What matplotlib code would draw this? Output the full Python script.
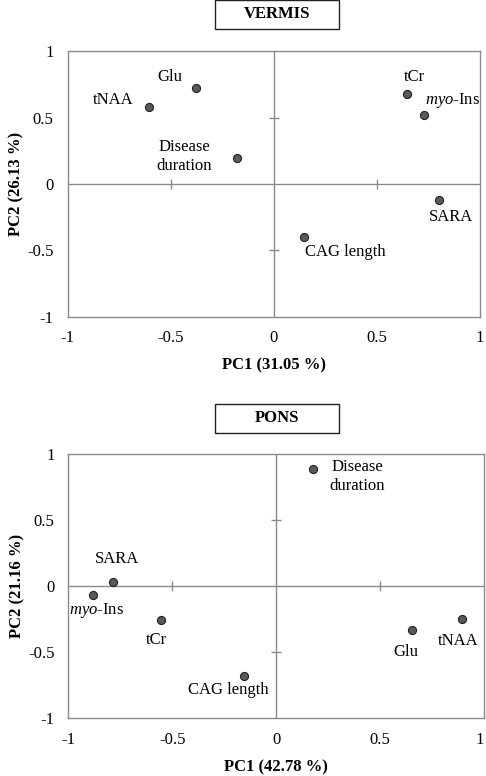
# PCA loading plots for vermis and pons, two panels stacked vertically.

import matplotlib
matplotlib.use("Agg")
import matplotlib.pyplot as plt
from matplotlib.patches import Rectangle

plt.rcParams["font.family"] = ["Liberation Serif", "DejaVu Serif"]
plt.rcParams["mathtext.fontset"] = "custom"
plt.rcParams["mathtext.rm"] = "Liberation Serif"
plt.rcParams["mathtext.it"] = "Liberation Serif:italic"

MYO = "$\\it{myo}$-Ins"

# Vermis loadings
vermis_labels = ["Glu", "tNAA", "Disease\nduration", "tCr", MYO, "SARA", "CAG length"]
vermis_pc1 = [-0.376, -0.605, -0.177, 0.646, 0.730, 0.800, 0.145]
vermis_pc2 = [0.726, 0.576, 0.193, 0.681, 0.516, -0.125, -0.400]
vermis_offsets = [(-26, 11), (-36, 7), (-53, 2), (7, 17), (28, 15), (12, -17), (42, -15)]

# Pons loadings
pons_labels = ["Disease\nduration", "SARA", MYO, "tCr", "CAG length", "Glu", "tNAA"]
pons_pc1 = [0.180, -0.786, -0.879, -0.553, -0.156, 0.653, 0.895]
pons_pc2 = [0.889, 0.030, -0.063, -0.258, -0.680, -0.329, -0.247]
pons_offsets = [(44, -7), (4, 23), (3, -16), (-5, -20), (-15, -14), (-6, -22), (-4, -22)]

ticks = [-1, -0.5, 0, 0.5, 1]
tick_labels = ["-1", "-0.5", "0", "0.5", "1"]

GRAY = "#8a8a8a"
FS = 12


def draw_panel(ax, x, y, labels, offsets, xlabel, ylabel):
    ax.set_xlim(-1, 1)
    ax.set_ylim(-1, 1)
    ax.set_xticks(ticks)
    ax.set_xticklabels(tick_labels)
    ax.set_yticks(ticks)
    ax.set_yticklabels(tick_labels)
    ax.tick_params(length=0, labelsize=FS, pad=10)
    for sp in ax.spines.values():
        sp.set_color(GRAY)
        sp.set_linewidth(1.0)
    ax.axhline(0, color=GRAY, lw=1.0, zorder=1)
    ax.axvline(0, color=GRAY, lw=1.0, zorder=1)
    # small cross ticks on the centre lines
    ax.plot([-0.5, 0.5], [0, 0], ls="none", marker="|", ms=6.5, mew=1.0, color=GRAY, zorder=1)
    ax.plot([0, 0], [-0.5, 0.5], ls="none", marker="_", ms=6.5, mew=1.0, color=GRAY, zorder=1)

    ax.scatter(x, y, s=34, color="#5a5a5a", edgecolor="#222222", linewidth=0.8, zorder=3)
    for xi, yi, lab, off in zip(x, y, labels, offsets):
        ax.annotate(lab, (xi, yi), xytext=off, textcoords="offset pixels",
                    ha="center", va="center", fontsize=FS, linespacing=1.25)

    ax.set_xlabel(xlabel, fontsize=FS, fontweight="bold", labelpad=8)
    ax.set_ylabel(ylabel, fontsize=FS, fontweight="bold", labelpad=2)


def title_box(fig, cx, cy, text):
    w, h = 124 / 486, 29 / 776
    fig.patches.append(Rectangle((cx - w / 2, cy - h / 2), w, h, transform=fig.transFigure,
                                 fill=False, edgecolor="#222222", linewidth=1.0))
    fig.text(cx, cy, text, ha="center", va="center", fontsize=FS, fontweight="bold")


fig = plt.figure(figsize=(4.86, 7.76), dpi=100)
ax1 = fig.add_axes([0.139, 0.592, 0.849, 0.342])
ax2 = fig.add_axes([0.1405, 0.0744, 0.855, 0.340])

draw_panel(ax1, vermis_pc1, vermis_pc2, vermis_labels, vermis_offsets,
           "PC1 (31.05 %)", "PC2 (26.13 %)")
draw_panel(ax2, pons_pc1, pons_pc2, pons_labels, pons_offsets,
           "PC1 (42.78 %)", "PC2 (21.16 %)")
# last x tick label of the lower panel sits against the right edge
ax2.get_xticklabels()[-1].set_horizontalalignment("right")

title_box(fig, 277 / 486, 1 - 14.5 / 776, "VERMIS")
title_box(fig, 277 / 486, 1 - 418.5 / 776, "PONS")

fig.savefig("out.png", dpi=100)
